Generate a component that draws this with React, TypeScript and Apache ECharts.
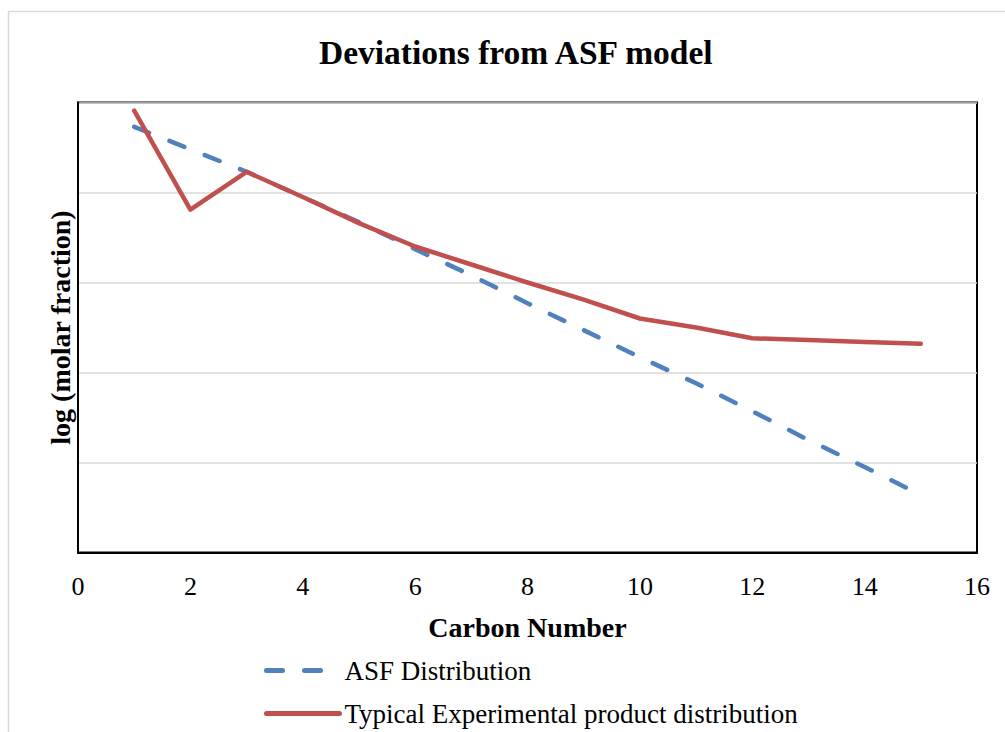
import React, { useEffect, useRef } from "react";
import * as echarts from "echarts";

const carbonNumbers = [1, 2, 3, 4, 5, 6, 7, 8, 9, 10, 11, 12, 13, 14, 15];
const asfValues = [4.73, 4.48, 4.23, 3.95, 3.67, 3.37, 3.08, 2.77, 2.47, 2.17, 1.88, 1.57, 1.25, 0.95, 0.64];
const experimentalValues = [4.91, 3.81, 4.23, 3.95, 3.66, 3.4, 3.2, 3.0, 2.81, 2.6, 2.5, 2.38, 2.36, 2.34, 2.32];
const xTicks = [0, 2, 4, 6, 8, 10, 12, 14, 16];

const SERIF = "'Times New Roman', 'Liberation Serif', serif";

export default function App() {
  const ref = useRef<HTMLDivElement>(null);
  useEffect(() => {
    if (!ref.current) return;
    const chart = echarts.init(ref.current, null, { renderer: "svg" });
    chart.setOption({
      animation: false,
      backgroundColor: "#ffffff",
      textStyle: { fontFamily: SERIF, color: "#000" },
      title: {
        text: "Deviations from ASF model",
        left: 314,
        top: 30,
        textStyle: { fontFamily: SERIF, fontSize: 33.5, fontWeight: "bold", color: "#000" },
      },
      graphic: [
        {
          type: "rect",
          silent: true,
          shape: { x: 8.5, y: 11.5, width: 1200, height: 1000 },
          style: { fill: "none", stroke: "#d9d9d9", lineWidth: 1.5 },
        },
      ],
      grid: {
        left: 78,
        top: 102.5,
        width: 899,
        height: 450,
        show: true,
        borderColor: "#000",
        borderWidth: 2,
        containLabel: false,
      },
      xAxis: {
        type: "value",
        min: xTicks[0],
        max: xTicks[xTicks.length - 1],
        interval: 2,
        name: "Carbon Number",
        nameLocation: "middle",
        nameGap: 61,
        nameTextStyle: { fontFamily: SERIF, fontSize: 28, fontWeight: "bold", color: "#000" },
        axisLine: { show: true, lineStyle: { color: "#000", width: 2 } },
        axisTick: { show: false },
        splitLine: { show: false },
        axisLabel: { fontFamily: SERIF, fontSize: 26, color: "#000", margin: 21 },
      },
      yAxis: {
        type: "value",
        min: 0,
        max: 5,
        interval: 1,
        name: "log (molar fraction)",
        nameLocation: "middle",
        nameRotate: 90,
        nameGap: 4,
        nameTextStyle: { fontFamily: SERIF, fontSize: 28, fontWeight: "bold", color: "#000", verticalAlign: "bottom" },
        axisLine: { show: true, lineStyle: { color: "#000", width: 2 } },
        axisTick: { show: false },
        axisLabel: { show: false },
        splitLine: { show: true, lineStyle: { color: "#d9d9d9", width: 1.5 } },
      },
      legend: {
        orient: "vertical",
        left: 264,
        top: 657,
        padding: 0,
        itemWidth: 73,
        itemHeight: 14,
        itemGap: 16,
        itemStyle: { opacity: 0 },
        lineStyle: { width: 5 },
        textStyle: { fontFamily: SERIF, fontSize: 27, color: "#000" },
        data: ["ASF Distribution", "Typical Experimental product distribution"],
      },
      series: [
        {
          name: "ASF Distribution",
          type: "line",
          showSymbol: false,
          symbol: "none",
          data: carbonNumbers.map((c, i) => [c, asfValues[i]]),
          lineStyle: { color: "#4F81BD", width: 4.5, type: [16, 22], cap: "round" },
          itemStyle: { color: "#4F81BD" },
        },
        {
          name: "Typical Experimental product distribution",
          type: "line",
          showSymbol: false,
          symbol: "none",
          data: carbonNumbers.map((c, i) => [c, experimentalValues[i]]),
          lineStyle: { color: "#C0504D", width: 4.5, cap: "round", join: "round" },
          itemStyle: { color: "#C0504D" },
        },
      ],
    });
    return () => chart.dispose();
  }, []);
  return (
    <div
      ref={ref}
      style={{ position: "fixed", left: 0, top: 0, width: 1005, height: 732, background: "#fff" }}
    />
  );
}
